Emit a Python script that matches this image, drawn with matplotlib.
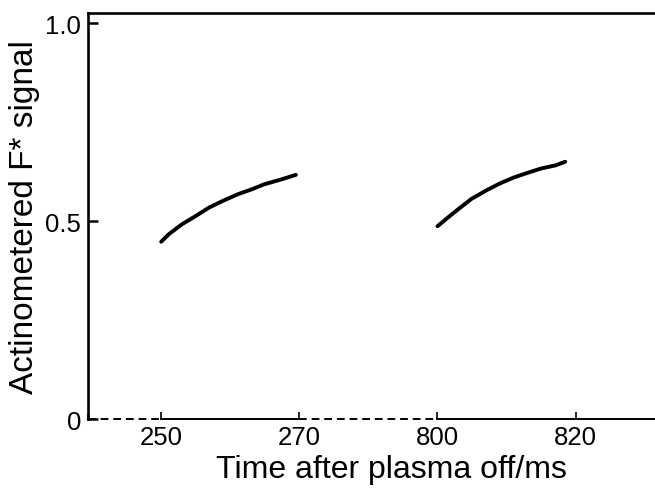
import numpy as np
import matplotlib
matplotlib.use('Agg')
import matplotlib.pyplot as plt

# readings from the reference
t_early = [250, 251.1, 253, 255, 256.9, 258.9, 261.1, 263.2, 264.9, 267.5, 269.5]
f_early = [0.448, 0.467, 0.492, 0.513, 0.534, 0.551, 0.568, 0.581, 0.593, 0.606, 0.617]
t_late = [800, 801.5, 803, 804.9, 807, 809, 811, 813.2, 815, 817.1, 818.5]
f_late = [0.487, 0.509, 0.530, 0.556, 0.577, 0.595, 0.610, 0.623, 0.633, 0.641, 0.650]

x_ticks = [250, 270, 800, 820]
y_ticks = [0, 0.5, 1.0]
y_ticklabels = ['0', '0.5', '1.0']

# broken time axis: 270..800 squeezed into a short dashed stretch
GAP = 20.0
BREAK_LO, BREAK_HI = 270.0, 800.0


def fwd(t):
    t = np.asarray(t, dtype=float)
    return np.where(t <= BREAK_LO, t,
                    np.where(t >= BREAK_HI, t - BREAK_HI + BREAK_LO + GAP,
                             BREAK_LO + (t - BREAK_LO) * GAP / (BREAK_HI - BREAK_LO)))


def inv(u):
    u = np.asarray(u, dtype=float)
    return np.where(u <= BREAK_LO, u,
                    np.where(u >= BREAK_LO + GAP, u - BREAK_LO - GAP + BREAK_HI,
                             BREAK_LO + (u - BREAK_LO) * (BREAK_HI - BREAK_LO) / GAP))


plt.rcParams['font.family'] = ['Liberation Sans', 'DejaVu Sans']

fig = plt.figure(figsize=(6.55, 4.89), dpi=100)
ax = fig.add_axes([88 / 655, 1 - 420 / 489, 1 - 88 / 655, (420 - 14) / 489])
ax.set_xscale('function', functions=(fwd, inv))
x_lo, x_hi = 239.4, 831.5
ax.set_xlim(x_lo, x_hi)
ax.set_ylim(0, 1.026)

ax.plot(t_early, f_early, color='black', lw=2.8, solid_capstyle='round', solid_joinstyle='round')
ax.plot(t_late, f_late, color='black', lw=2.8, solid_capstyle='round', solid_joinstyle='round')

# bottom axis drawn by hand: dashed across the skipped stretches
ax.spines['bottom'].set_visible(False)
ax.spines['right'].set_visible(False)
for side in ['left', 'top']:
    ax.spines[side].set_linewidth(1.9)
trans = ax.get_xaxis_transform()
dash_kw = dict(color='black', lw=1.4, dashes=(4, 2.5), transform=trans, clip_on=False)
solid_kw = dict(color='black', lw=1.4, transform=trans, clip_on=False)
ax.plot([x_lo, x_ticks[0]], [0, 0], **dash_kw)
ax.plot([x_ticks[0], x_ticks[1]], [0, 0], **solid_kw)
ax.plot([x_ticks[1], x_ticks[2]], [0, 0], **dash_kw)
ax.plot([x_ticks[2], x_hi], [0, 0], **solid_kw)
ax.plot([x_lo, x_lo], [0, 0.01], color='black', lw=1.9, transform=trans, clip_on=False)

ax.set_xticks(x_ticks)
ax.set_xticklabels([str(v) for v in x_ticks])
ax.set_yticks(y_ticks)
ax.set_yticklabels(y_ticklabels)
ax.xaxis.set_minor_locator(matplotlib.ticker.NullLocator())
ax.tick_params(axis='x', direction='in', length=5, width=1.2, pad=4, labelsize=18.5)
ax.tick_params(axis='y', direction='in', length=7.5, width=1.8, pad=5, labelsize=18.5)

ax.set_xlabel('Time after plasma off/ms', fontsize=23)
ax.xaxis.set_label_coords(0.535, -0.085)
ax.set_ylabel('Actinometered F* signal', fontsize=24, labelpad=4)

fig.savefig('out.png', dpi=100)
